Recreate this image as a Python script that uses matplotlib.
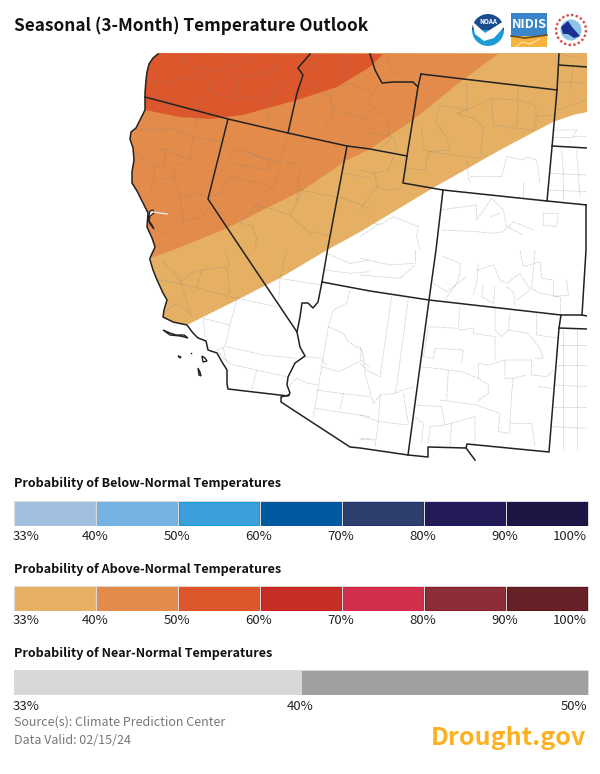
import matplotlib
matplotlib.use("Agg")
import matplotlib.pyplot as plt
import numpy as np
from matplotlib.patches import Circle, Polygon, Rectangle, Wedge

plt.rcParams["font.family"] = ["Noto Sans CJK JP", "DejaVu Sans"]

# =========================
# legend data
# =========================
below_colors = ["#A0BEDD", "#76B3E2", "#3B9FDB", "#005A9F", "#2E3F6E", "#221B58", "#1B1644"]
below_edges = ["#A6C4E0", "#6FB2E6", "#0E9BE0", "#0A4F9E", "#1B2F7A", "#1A1470", "#15104F"]
above_colors = ["#E5B064", "#E38B4A", "#DC582C", "#C62F28", "#CF2F4A", "#8B2E39", "#662026"]
above_edges = ["#E8B468", "#E58A44", "#E84E1C", "#D01C18", "#DC2048", "#8E1620", "#5E1018"]
near_colors = ["#D7D7D7", "#A0A0A0"]
prob_labels = ["33%", "40%", "50%", "60%", "70%", "80%", "90%", "100%"]
near_labels = ["33%", "40%", "50%"]

# =========================
# map outline, in picture pixels
# =========================
coast_north = [(158, 54), (153, 58), (149, 64), (147, 72), (146, 80), (145, 93), (145, 110)]
coast_mid = [(141, 118), (136, 128), (131, 132), (130, 139), (133, 148), (134, 160), (132, 172),
             (132, 183), (137, 191), (140, 197), (144, 205), (148, 213), (147, 227), (152, 238),
             (155, 247), (150, 258)]
coast_south = [(150, 260), (153, 270), (157, 280), (163, 293), (167, 300), (164, 310), (163, 317),
               (173, 322), (187, 325)]
coast_end = [(193, 333), (198, 338), (206, 341), (208, 350), (217, 353), (222, 362), (227, 370),
             (227, 384), (228, 389), (288, 396), (290, 393), (287, 385), (288, 377), (295, 363),
             (305, 356), (300, 347), (297, 332), (300, 317), (302, 303), (308, 303), (313, 308),
             (318, 302), (322, 282)]

red_edge = [(145, 110), (180, 117), (210, 119), (243, 115), (297, 100), (337, 87), (360, 73),
            (370, 67), (383, 54)]
orange_edge = [(150, 258), (173, 250), (223, 230), (263, 210), (303, 190), (347, 160), (370, 149),
               (413, 120), (460, 82), (498, 54)]
light_edge = [(187, 325), (237, 300), (280, 278), (327, 250), (360, 232), (433, 188), (500, 150),
              (553, 122), (573, 115), (587, 112)]

state_lines = [
    coast_north + coast_mid + coast_south + coast_end,
    [(145, 97), (228, 119), (288, 133), (347, 146), (370, 149), (407, 156)],
    [(228, 119), (208, 199), (242, 250), (297, 332)],
    [(288, 133), (297, 93), (303, 75), (298, 68), (310, 54)],
    [(347, 146), (328, 247), (322, 282), (370, 291), (429, 300), (561, 315), (582, 315), (587, 316)],
    [(370, 54), (375, 70), (382, 83), (393, 82), (413, 82), (418, 87)],
    [(421, 74), (418, 87), (407, 156), (403, 183), (443, 190), (547, 201), (587, 205)],
    [(421, 74), (557, 90), (559, 54)],
    [(557, 90), (552, 147), (547, 201)],
    [(559, 65), (587, 67)],
    [(552, 146), (587, 148)],
    [(586, 205), (586, 250), (582, 315)],
    [(443, 190), (436, 250), (429, 300), (408, 455)],
    [(561, 315), (559, 328), (549, 452), (467, 444), (466, 448), (475, 460)],
    [(466, 448), (428, 447), (428, 457), (408, 455), (360, 448), (350, 447), (281, 402), (281, 397),
     (289, 395)],
    [(559, 328), (587, 329)],
]

islands = [
    [(163, 330), (170, 333), (176, 335), (184, 335), (188, 338), (180, 336), (170, 335)],
    [(178, 356), (181, 357), (180, 358)],
    [(191, 353), (192, 354)],
    [(202, 356), (205, 358), (207, 361), (203, 362)],
    [(198, 368), (200, 372), (201, 376), (199, 375)],
]
bay = [(150, 211), (153, 210), (154, 213), (150, 216), (149, 221), (152, 225), (154, 229), (150, 224),
       (148, 219)]

# county lines, in 3x zoom pixels of four map tiles
counties_nw = [
    [(150, 18), (165, 40), (208, 52), (205, 75), (165, 85), (120, 95), (85, 85), (55, 105)],
    [(208, 52), (330, 80), (435, 60), (430, 15)],
    [(240, 60), (235, 125), (315, 150), (330, 80)],
    [(120, 95), (115, 170), (100, 150), (65, 135)],
    [(315, 150), (390, 135), (420, 170), (410, 240)],
    [(270, 15), (300, 50), (345, 45), (360, 15)],
    [(435, 60), (440, 100), (420, 170)],
    [(215, 120), (195, 240)],
    [(15, 240), (90, 240), (130, 235), (190, 262), (290, 275)],
    [(190, 262), (180, 330), (110, 300), (80, 295)],
    [(110, 300), (100, 345), (75, 350), (15, 305)],
    [(75, 350), (70, 395), (130, 380), (135, 345), (175, 340)],
    [(130, 380), (150, 440), (210, 430), (235, 445)],
    [(70, 395), (55, 440)],
    [(150, 440), (160, 515), (215, 500), (240, 470)],
    [(160, 515), (115, 550), (75, 540)],
    [(295, 340), (300, 320), (320, 295), (450, 340), (475, 255)],
    [(345, 305), (415, 330), (420, 360), (300, 340)],
    [(300, 380), (430, 410), (450, 350)],
    [(470, 335), (510, 345), (500, 450), (510, 420)],
    [(300, 380), (270, 430), (240, 440)],
    [(430, 410), (375, 470), (420, 475), (480, 495), (520, 420)],
    [(375, 470), (330, 520), (365, 525), (380, 565), (375, 600)],
    [(480, 495), (540, 550), (560, 545), (595, 560)],
    [(510, 420), (640, 445), (720, 475)],
    [(640, 370), (720, 385)],
    [(550, 110), (600, 140), (630, 110), (650, 40), (620, 15)],
    [(550, 110), (520, 90)],
    [(600, 140), (610, 180), (700, 205), (720, 210)],
    [(610, 180), (585, 245)],
    [(720, 125), (660, 100), (630, 110)],
    [(560, 15), (550, 50), (520, 75)],
]
counties_ne = [
    [(60, 100), (20, 160), (80, 200), (90, 270), (60, 295)],
    [(80, 12), (90, 60), (120, 75)],
    [(0, 220), (30, 250), (100, 260), (110, 300)],
    [(320, 100), (320, 180), (240, 165), (225, 215), (260, 260), (270, 300), (205, 305), (190, 295),
     (185, 230)],
    [(320, 180), (395, 145), (470, 150), (475, 110)],
    [(320, 180), (290, 190), (340, 205), (370, 230), (360, 320)],
    [(395, 145), (400, 225), (470, 235), (475, 150), (525, 165), (530, 200), (585, 195)],
    [(205, 305), (195, 360), (135, 355)],
    [(205, 305), (360, 325)],
    [(475, 235), (525, 240), (525, 190)],
    [(100, 320), (85, 360), (45, 370), (50, 410), (85, 420), (120, 415), (140, 350)],
    [(0, 360), (45, 370)],
    [(50, 410), (0, 480)],
    [(600, 12), (660, 25)],
    [(640, 50), (630, 120)],
    [(590, 95), (680, 100)],
    [(590, 180), (620, 170), (680, 150)],
    [(320, 330), (325, 380), (330, 400)],
    [(330, 380), (425, 380), (440, 320), (490, 330), (500, 320), (530, 330), (540, 400)],
    [(490, 395), (490, 440)],
    [(580, 240), (650, 240), (640, 260), (680, 260)],
    [(580, 260), (640, 260)],
    [(605, 300), (610, 370), (610, 450)],
    [(650, 300), (660, 440)],
    [(570, 370), (680, 375)],
    [(565, 420), (680, 425)],
    [(240, 480), (350, 465), (350, 510), (395, 445), (430, 480), (440, 530), (490, 555)],
    [(100, 500), (60, 525), (40, 520)],
    [(100, 500), (175, 530), (170, 560), (180, 600)],
    [(245, 540), (350, 545), (400, 550), (430, 545), (460, 515), (520, 540)],
    [(550, 490), (595, 490), (590, 530), (550, 525), (550, 490)],
    [(390, 500), (420, 490)],
    [(0, 560), (60, 520)],
]
counties_sw = [
    [(85, 90), (150, 100), (300, 140), (440, 170)],
    [(95, 30), (150, 95), (185, 200)],
    [(130, 60), (155, 95), (180, 70), (215, 60), (200, 115)],
    [(215, 60), (290, 50), (300, 135)],
    [(285, 0), (300, 50)],
    [(110, 180), (140, 160), (180, 190)],
    [(220, 205), (225, 260)],
    [(220, 205), (300, 225), (320, 150)],
    [(300, 225), (285, 290), (260, 300), (290, 335), (280, 295)],
    [(290, 290), (400, 315), (500, 325)],
    [(290, 335), (310, 345), (470, 380)],
    [(380, 360), (365, 420)],
    [(450, 85), (445, 170)],
    [(470, 0), (450, 85), (575, 105)],
    [(590, 10), (660, 40), (720, 30)],
    [(585, 60), (660, 70), (720, 65)],
    [(660, 120), (650, 160), (610, 180), (595, 230), (550, 500)],
    [(595, 230), (640, 250), (655, 275), (695, 300), (690, 330), (720, 350)],
    [(525, 320), (575, 325), (590, 345)],
    [(575, 350), (625, 365), (690, 335)],
    [(560, 420), (630, 430), (720, 440)],
    [(640, 430), (630, 480)],
    [(555, 475), (720, 500)],
    [(500, 385), (535, 400), (565, 405)],
    [(500, 385), (475, 410)],
    [(690, 570), (720, 565)],
]
counties_se = [
    [(0, 25), (90, 45), (160, 40)],
    [(0, 75), (120, 85), (165, 45)],
    [(165, 0), (165, 40)],
    [(95, 140), (60, 380)],
    [(145, 145), (110, 410)],
    [(0, 340), (20, 360), (60, 380)],
    [(0, 290), (10, 320), (15, 370), (40, 460), (60, 435), (105, 430), (110, 410)],
    [(105, 430), (130, 420), (160, 410)],
    [(60, 435), (55, 515), (145, 525)],
    [(0, 495), (55, 515), (45, 590)],
    [(130, 430), (145, 520)],
    [(0, 565), (45, 570)],
    [(220, 100), (260, 125), (320, 80)],
    [(250, 20), (300, 40), (300, 70), (290, 100), (255, 150)],
    [(355, 40), (350, 100), (340, 135)],
    [(350, 60), (400, 45), (420, 90), (440, 100), (480, 70), (510, 120), (470, 150)],
    [(370, 105), (365, 140), (400, 160), (405, 110)],
    [(440, 110), (460, 125), (465, 170)],
    [(480, 0), (490, 50), (540, 35), (545, 85), (580, 90), (580, 140), (625, 135)],
    [(620, 90), (625, 135)],
    [(600, 140), (600, 190)],
    [(525, 0), (515, 115), (540, 130), (600, 140)],
    [(300, 170), (295, 235), (205, 230), (190, 320), (220, 325), (225, 295), (310, 300), (305, 340)],
    [(295, 240), (340, 235), (340, 250), (405, 260), (405, 330)],
    [(405, 170), (405, 240), (425, 260), (445, 240), (450, 190)],
    [(530, 190), (530, 255), (600, 265)],
    [(445, 240), (505, 250), (540, 295), (550, 325), (525, 325)],
    [(185, 350), (305, 365), (355, 385), (355, 340), (385, 345), (435, 330), (515, 330), (515, 375),
     (560, 380), (580, 360)],
    [(355, 385), (385, 405), (385, 430), (350, 455)],
    [(265, 360), (260, 450)],
    [(170, 465), (245, 470), (255, 525), (210, 530), (205, 580)],
    [(240, 450), (350, 465), (420, 490), (415, 545), (450, 550), (450, 520), (515, 520), (525, 590)],
    [(435, 330), (435, 385), (460, 385), (500, 375)],
    [(535, 410), (575, 415)],
    [(460, 385), (455, 430), (450, 520)],
    [(275, 520), (270, 590)],
    [(255, 525), (345, 500), (345, 585)],
    [(165, 500), (190, 520), (185, 580)],
    [(610, 240), (610, 600)],
    [(650, 240), (650, 600)],
    [(600, 285), (680, 285)],
    [(590, 345), (680, 345)],
    [(585, 405), (680, 410)],
    [(580, 470), (680, 470)],
    [(575, 530), (680, 535)],
]

# =========================
# figure
# =========================
fig = plt.figure(figsize=(6, 7.74), dpi=100)
ax = fig.add_axes([0, 0, 1, 1])
ax.set_xlim(0, 600)
ax.set_ylim(774, 0)
ax.axis("off")

map_clip = Rectangle((0, 53), 587, 420, transform=ax.transData)

# outlook areas
light_area = coast_north + coast_mid + coast_south + light_edge + [(587, 53), (158, 53)]
orange_area = coast_north + coast_mid + orange_edge + [(158, 53)]
red_area = coast_north + red_edge + [(158, 53)]
for area, col in [(light_area, above_colors[0]), (orange_area, above_colors[1]), (red_area, above_colors[2])]:
    ax.add_patch(Polygon(area, closed=True, facecolor=col, edgecolor="none", zorder=1))

# county lines
for tile, x0, y0 in [(counties_nw, 130, 50), (counties_ne, 360, 50), (counties_sw, 130, 250), (counties_se, 360, 250)]:
    for line in tile:
        pts = np.array(line) / 3 + [x0, y0]
        l, = ax.plot(pts[:, 0], pts[:, 1], color="#808080", alpha=0.3, lw=0.6, ls=(0, (6, 0.8)), zorder=2)
        l.set_clip_path(map_clip)

# state lines and coast
for line in state_lines:
    pts = np.array(line)
    l, = ax.plot(pts[:, 0], pts[:, 1], color="#222222", lw=1.1, solid_joinstyle="round", zorder=3)
    l.set_clip_path(map_clip)
for isl in islands:
    ax.add_patch(Polygon(isl, closed=True, facecolor="white", edgecolor="#222222", lw=1.0, zorder=3))
ax.add_patch(Polygon(bay, closed=True, facecolor="white", edgecolor="#222222", lw=0.9, zorder=3))
ax.plot([153, 160, 167], [212, 213, 214], color="#e8e8e8", lw=1.0, zorder=3)

# title
ax.text(14, 26, "Seasonal (3-Month) Temperature Outlook", fontsize=12.4, fontweight="bold",
        color="#111111", va="center", ha="left")

# NOAA logo
ax.add_patch(Wedge((488, 30), 16, 180, 360, facecolor="#1B4B8F", edgecolor="none", zorder=4))
ax.add_patch(Wedge((488, 30), 16, 0, 180, facecolor="#1E9BD7", edgecolor="none", zorder=4))
ax.add_patch(Polygon([(472, 21), (485, 33), (504, 21), (504, 27), (494, 38), (484, 41), (475, 34)],
                     closed=True, facecolor="white", edgecolor="none", zorder=5))
ax.text(488, 22, "NOAA", fontsize=4.6, fontweight="bold", color="white", ha="center", va="center", zorder=6)

# NIDIS logo
ax.add_patch(Rectangle((511, 13), 36, 23, facecolor="#3A86C8", edgecolor="none", zorder=4))
ax.add_patch(Rectangle((511, 36), 36, 11, facecolor="#F7B43C", edgecolor="none", zorder=4))
ax.plot([511, 525, 547], [36, 38, 35], color="#6B4A1E", lw=1.2, zorder=5)
ax.plot([516, 522, 530, 540], [47, 42, 44, 39], color="#FFE9B8", lw=0.7, zorder=5)
ax.text(529, 24, "NIDIS", fontsize=9.2, fontweight="bold", color="white", ha="center", va="center", zorder=6)

# NWS logo
ax.add_patch(Circle((571, 30), 16, facecolor="white", edgecolor="none", zorder=4))
ax.add_patch(Circle((571, 30), 15, facecolor="none", edgecolor="#D84B4B", lw=1.7, ls=(0, (1, 1)), zorder=5))
ax.add_patch(Circle((571, 30), 10.5, facecolor="#8FC3E8", edgecolor="none", zorder=5))
ax.add_patch(Polygon([(561, 27), (568, 21), (572, 27), (580, 36), (574, 38), (568, 34), (563, 34)],
                     closed=True, facecolor="#1A2F8F", edgecolor="none", zorder=6))


def color_bar(y_top, height, colors, edges=None):
    n = len(colors)
    bounds = np.linspace(14, 588, n + 1)
    for i in range(n):
        ec = edges[i] if edges else colors[i]
        ax.add_patch(Rectangle((bounds[i] + 1.0, y_top + 0.5), bounds[i + 1] - bounds[i] - 1.8, height - 1,
                               facecolor=colors[i], edgecolor=ec, lw=0.7, zorder=2))
    ax.add_patch(Rectangle((13.5, y_top - 0.5), 575, height + 1, facecolor="#D9D9D9", edgecolor="none", zorder=1))
    return bounds


def bar_labels(y, bounds, labels):
    for i, lab in enumerate(labels):
        ha = "left" if i == 0 else "right" if i == len(labels) - 1 else "center"
        x = bounds[i] - 1 if i else 13
        ax.text(x, y, lab, fontsize=9.5, color="#222222", ha=ha, va="center")


# below-normal legend
ax.text(14, 484, "Probability of Below-Normal Temperatures", fontsize=9.0, fontweight="bold",
        color="#111111", va="center")
bar_labels(536, color_bar(501, 24, below_colors, below_edges), prob_labels)

# above-normal legend
ax.text(14, 569, "Probability of Above-Normal Temperatures", fontsize=9.0, fontweight="bold",
        color="#111111", va="center")
bar_labels(621, color_bar(586, 24, above_colors, above_edges), prob_labels)

# near-normal legend
ax.text(14, 654, "Probability of Near-Normal Temperatures", fontsize=9.0, fontweight="bold",
        color="#111111", va="center")
bar_labels(706, color_bar(670, 24, near_colors), near_labels)

# footer
ax.text(14, 722, "Source(s): Climate Prediction Center", fontsize=9.0, color="#777777", va="center")
ax.text(14, 740, "Data Valid: 02/15/24", fontsize=9.0, color="#777777", va="center")
ax.text(586, 738, "Drought.gov", fontsize=18, fontweight="bold", color="#FDB022", ha="right", va="center")

fig.savefig("out.png", dpi=100)
